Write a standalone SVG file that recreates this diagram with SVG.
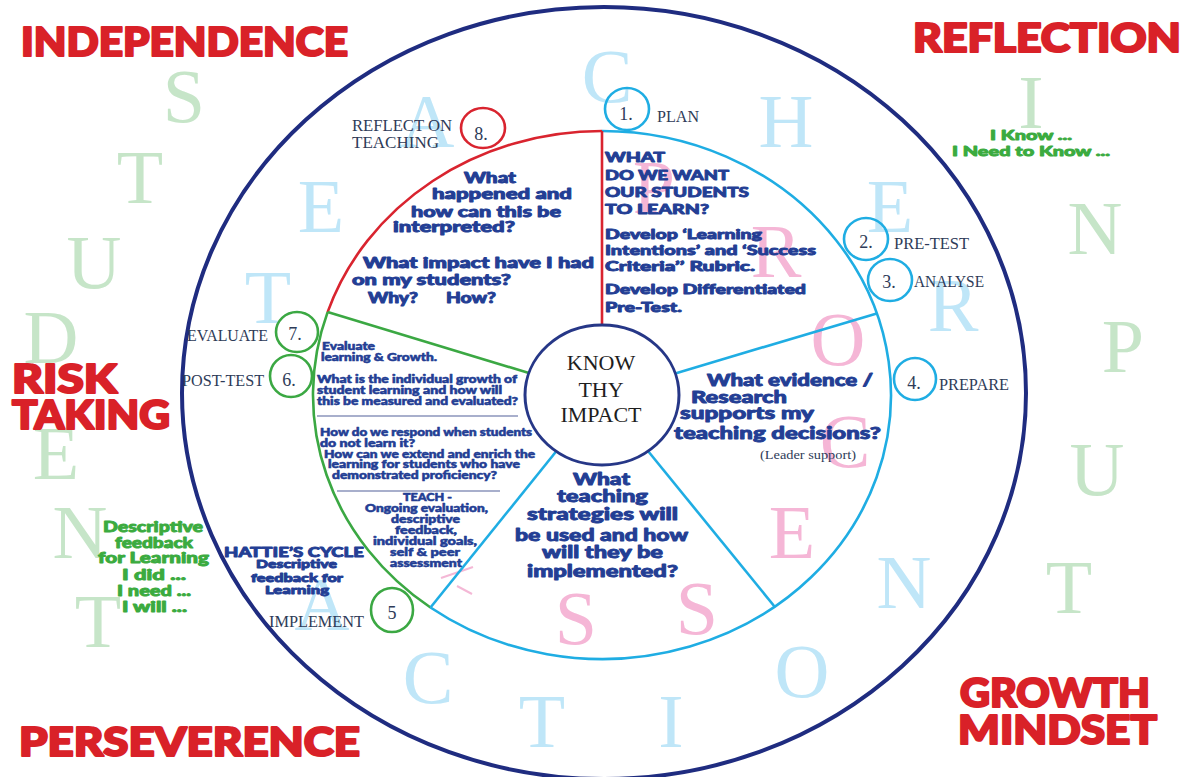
<svg xmlns="http://www.w3.org/2000/svg" width="1189" height="777" viewBox="0 0 1189 777">
<style>
.bg{fill:#ffffff}
.pl{font-family:"Liberation Serif","DejaVu Serif",serif;font-size:76px;text-anchor:middle}
.pg{fill:#c6e5c8}
.pb{fill:#bfe6f8}
.pp{fill:#f5b6d6}
.ring{fill:none;stroke:#1f2c80;stroke-width:4}
.sr{fill:none;stroke:#d9242f;stroke-width:2.6}
.sb{fill:none;stroke:#1fade3;stroke-width:2.6}
.sg{fill:none;stroke:#3ba843;stroke-width:2.6}
.sep{stroke:#8b95bb;stroke-width:1.3}
.hub{fill:#ffffff;stroke:#263787;stroke-width:3}
.hubt{font-family:"Liberation Serif","DejaVu Serif",serif;font-size:22px;fill:#1e1e1e;text-anchor:middle}
.lab{font-family:"Liberation Serif","DejaVu Serif",serif;font-size:16px;fill:#2e3b58}
.num{font-family:"Liberation Serif","DejaVu Serif",serif;font-size:18px;fill:#2e3b58;text-anchor:middle}
.hv{font-family:"Lato","DejaVu Sans",sans-serif;font-weight:900;fill:#233e94;stroke:#233e94;stroke-width:0.9;stroke-linejoin:round}
.f15{font-size:15px}
.f14{font-size:14px}
.f17{font-size:17px}
.f12{font-size:12px}
.f10{font-size:10.5px;stroke-width:0.55}
.gr{font-family:"Lato","DejaVu Sans",sans-serif;font-weight:900;fill:#3bab3f;stroke:#3bab3f;stroke-width:0.9;stroke-linejoin:round}
.red{font-family:"Lato","DejaVu Sans",sans-serif;font-weight:900;fill:#d92128;stroke:#d92128;stroke-width:2.2;stroke-linejoin:round;font-size:40px}
</style>
<rect class="bg" x="0" y="0" width="1189" height="777"/>

<g id="background-letters">
  <g class="pl pg">
    <text x="184" y="122">S</text>
    <text x="140" y="203">T</text>
    <text x="94" y="288">U</text>
    <text x="51" y="363">D</text>
    <text x="56" y="479">E</text>
    <text x="80" y="558">N</text>
    <text x="98" y="647">T</text>
    <text x="1031" y="128">I</text>
    <text x="1095" y="254">N</text>
    <text x="1123" y="372">P</text>
    <text x="1097" y="495">U</text>
    <text x="1069" y="613">T</text>
  </g>
  <g class="pl pb">
    <text x="268" y="323">T</text>
    <text x="321" y="232">E</text>
    <text x="427" y="147">A</text>
    <text x="607" y="102">C</text>
    <text x="786" y="147">H</text>
    <text x="890" y="232">E</text>
    <text x="953" y="331">R</text>
    <text x="322" y="630">A</text>
    <text x="428" y="703">C</text>
    <text x="542" y="747">T</text>
    <text x="671" y="747">I</text>
    <text x="802" y="697">O</text>
    <text x="904" y="608">N</text>
  </g>
  <g class="pl pp">
    <text x="654" y="213">P</text>
    <text x="776" y="277">R</text>
    <text x="838" y="365">O</text>
    <text x="845" y="467">C</text>
    <text x="792" y="558">E</text>
    <text x="576" y="644">S</text>
    <text x="697" y="634">S</text>
  </g>
  <path d="M473,567 L441,578 M457,586 L472,594" fill="none" stroke="#f4b8d6" stroke-width="2"/>
</g>

<g id="outer-ring">
  <ellipse class="ring" cx="604" cy="393" rx="422" ry="386"/>
</g>

<g id="sector-reflect">
  <path class="sr" d="M602,131 A289,264 0 0 0 327.6,312.1"/>
  <g class="hv f15">
    <text x="464" y="183" textLength="52" lengthAdjust="spacingAndGlyphs">What</text>
    <text x="432" y="199" textLength="140" lengthAdjust="spacingAndGlyphs">happened and</text>
    <text x="411" y="217" textLength="150" lengthAdjust="spacingAndGlyphs">how can this be</text>
    <text x="393" y="232" textLength="122" lengthAdjust="spacingAndGlyphs">interpreted?</text>
    <text x="363" y="268" textLength="231" lengthAdjust="spacingAndGlyphs">What impact have I had</text>
    <text x="352" y="285" textLength="159" lengthAdjust="spacingAndGlyphs">on my students?</text>
    <text x="368" y="303" textLength="50" lengthAdjust="spacingAndGlyphs">Why?</text>
    <text x="446" y="303" textLength="50" lengthAdjust="spacingAndGlyphs">How?</text>
  </g>
</g>

<g id="sector-plan">
  <path class="sb" d="M602,131 A289,264 0 1 1 430.5,607.5"/>
  <g class="hv f14">
    <text x="605" y="162" textLength="60" lengthAdjust="spacingAndGlyphs">WHAT</text>
    <text x="605" y="180" textLength="124" lengthAdjust="spacingAndGlyphs">DO WE WANT</text>
    <text x="605" y="197" textLength="144" lengthAdjust="spacingAndGlyphs">OUR STUDENTS</text>
    <text x="605" y="214" textLength="104" lengthAdjust="spacingAndGlyphs">TO LEARN?</text>
    <text x="605" y="239" textLength="157" lengthAdjust="spacingAndGlyphs">Develop ‘Learning</text>
    <text x="605" y="255" textLength="211" lengthAdjust="spacingAndGlyphs">Intentions’ and ‘Success</text>
    <text x="605" y="271" textLength="150" lengthAdjust="spacingAndGlyphs">Criteria’’ Rubric.</text>
    <text x="605" y="294" textLength="201" lengthAdjust="spacingAndGlyphs">Develop Differentiated</text>
    <text x="605" y="312" textLength="77" lengthAdjust="spacingAndGlyphs">Pre-Test.</text>
  </g>
</g>

<g id="sector-prepare">
  <g class="hv f17">
    <text x="707" y="386" textLength="166" lengthAdjust="spacingAndGlyphs">What evidence /</text>
    <text x="691" y="403" textLength="96" lengthAdjust="spacingAndGlyphs">Research</text>
    <text x="680" y="419" textLength="134" lengthAdjust="spacingAndGlyphs">supports my</text>
    <text x="674" y="439" textLength="207" lengthAdjust="spacingAndGlyphs">teaching decisions?</text>
  </g>
  <text class="lab" x="760" y="459" style="font-size:13px" textLength="96" lengthAdjust="spacingAndGlyphs">(Leader support)</text>
</g>

<g id="sector-teach">
  <g class="hv f17">
    <text x="573" y="485" textLength="57" lengthAdjust="spacingAndGlyphs">What</text>
    <text x="557" y="502" textLength="91" lengthAdjust="spacingAndGlyphs">teaching</text>
    <text x="527" y="520" textLength="151" lengthAdjust="spacingAndGlyphs">strategies will</text>
    <text x="515" y="541" textLength="173" lengthAdjust="spacingAndGlyphs">be used and how</text>
    <text x="542" y="558" textLength="121" lengthAdjust="spacingAndGlyphs">will they be</text>
    <text x="527" y="577" textLength="151" lengthAdjust="spacingAndGlyphs">implemented?</text>
  </g>
</g>

<g id="sector-evaluate">
  <path class="sg" d="M327.6,312.1 A289,264 0 0 0 430.5,607.5"/>
  <line class="sep" x1="317" y1="416" x2="518" y2="416"/>
  <line class="sep" x1="337" y1="491" x2="500" y2="491"/>
  <g class="hv f10">
    <text x="322" y="350" textLength="53" lengthAdjust="spacingAndGlyphs">Evaluate</text>
    <text x="321" y="361" textLength="116" lengthAdjust="spacingAndGlyphs">learning &amp; Growth.</text>
    <text x="317" y="383" textLength="200" lengthAdjust="spacingAndGlyphs">What is the individual growth of</text>
    <text x="317" y="394" textLength="185" lengthAdjust="spacingAndGlyphs">student learning and how will</text>
    <text x="317" y="405" textLength="201" lengthAdjust="spacingAndGlyphs">this be measured and evaluated?</text>
    <text x="320" y="436" textLength="212" lengthAdjust="spacingAndGlyphs">How do we respond when students</text>
    <text x="320" y="447" textLength="95" lengthAdjust="spacingAndGlyphs">do not learn it?</text>
    <text x="324" y="458" textLength="211" lengthAdjust="spacingAndGlyphs">How can we extend and enrich the</text>
    <text x="328" y="468" textLength="192" lengthAdjust="spacingAndGlyphs">learning for students who have</text>
    <text x="332" y="479" textLength="165" lengthAdjust="spacingAndGlyphs">demonstrated proficiency?</text>
    <text x="403" y="501" textLength="49" lengthAdjust="spacingAndGlyphs">TEACH -</text>
    <text x="365" y="512" textLength="123" lengthAdjust="spacingAndGlyphs">Ongoing evaluation,</text>
    <text x="391" y="523" textLength="69" lengthAdjust="spacingAndGlyphs">descriptive</text>
    <text x="395" y="534" textLength="62" lengthAdjust="spacingAndGlyphs">feedback,</text>
    <text x="373" y="545" textLength="104" lengthAdjust="spacingAndGlyphs">individual goals,</text>
    <text x="390" y="556" textLength="70" lengthAdjust="spacingAndGlyphs">self &amp; peer</text>
    <text x="390" y="567" textLength="72" lengthAdjust="spacingAndGlyphs">assessment</text>
  </g>
</g>

<g id="connectors">
  <line class="sr" x1="602" y1="131" x2="602" y2="325"/>
  <line class="sg" x1="327.6" y1="312.1" x2="528.9" y2="373"/>
  <line class="sb" x1="430.5" y1="607.5" x2="556.3" y2="451.3"/>
  <line class="sb" x1="774.7" y1="606.7" x2="648" y2="451"/>
  <line class="sb" x1="876.8" y1="313.4" x2="675.2" y2="373.4"/>
</g>

<g id="hub">
  <ellipse class="hub" cx="602" cy="395" rx="77" ry="70"/>
  <text class="hubt" x="601" y="370">KNOW</text>
  <text class="hubt" x="601" y="397">THY</text>
  <text class="hubt" x="601" y="422">IMPACT</text>
</g>

<g id="step-1">
  <ellipse class="sb" cx="627" cy="109" rx="22" ry="21"/>
  <text class="num" x="626" y="120">1.</text>
  <text class="lab" x="657" y="122" textLength="42" lengthAdjust="spacingAndGlyphs">PLAN</text>
</g>
<g id="step-2">
  <ellipse class="sb" cx="866" cy="239" rx="22" ry="21"/>
  <text class="num" x="866" y="248">2.</text>
  <text class="lab" x="894" y="249" textLength="75" lengthAdjust="spacingAndGlyphs">PRE-TEST</text>
</g>
<g id="step-3">
  <ellipse class="sb" cx="890" cy="280" rx="22" ry="21"/>
  <text class="num" x="889" y="288">3.</text>
  <text class="lab" x="914" y="287" textLength="70" lengthAdjust="spacingAndGlyphs">ANALYSE</text>
</g>
<g id="step-4">
  <ellipse class="sb" cx="915" cy="379" rx="21" ry="21"/>
  <text class="num" x="914" y="389">4.</text>
  <text class="lab" x="939" y="390" textLength="70" lengthAdjust="spacingAndGlyphs">PREPARE</text>
</g>
<g id="step-5">
  <ellipse class="sg" cx="392" cy="610" rx="21" ry="22"/>
  <text class="num" x="392" y="619">5</text>
  <text class="lab" x="269" y="627" textLength="95" lengthAdjust="spacingAndGlyphs">IMPLEMENT</text>
</g>
<g id="step-6">
  <ellipse class="sg" cx="291" cy="376" rx="21" ry="21"/>
  <text class="num" x="289" y="386">6.</text>
  <text class="lab" x="182" y="386" textLength="82" lengthAdjust="spacingAndGlyphs">POST-TEST</text>
</g>
<g id="step-7">
  <ellipse class="sg" cx="297" cy="332" rx="21" ry="20"/>
  <text class="num" x="295" y="340">7.</text>
  <text class="lab" x="187" y="341" textLength="81" lengthAdjust="spacingAndGlyphs">EVALUATE</text>
</g>
<g id="step-8">
  <ellipse class="sr" cx="483" cy="128" rx="22" ry="20"/>
  <text class="num" x="481" y="140">8.</text>
  <text class="lab" x="352" y="131" textLength="100" lengthAdjust="spacingAndGlyphs">REFLECT ON</text>
  <text class="lab" x="352" y="148" textLength="87" lengthAdjust="spacingAndGlyphs">TEACHING</text>
</g>

<g id="hatties-cycle">
  <text class="hv f14" x="224" y="557" textLength="140" lengthAdjust="spacingAndGlyphs">HATTIE’S CYCLE</text>
  <text class="hv f12" x="256" y="568" textLength="81" lengthAdjust="spacingAndGlyphs">Descriptive</text>
  <text class="hv f12" x="251" y="582" textLength="92" lengthAdjust="spacingAndGlyphs">feedback for</text>
  <text class="hv f12" x="265" y="594" textLength="64" lengthAdjust="spacingAndGlyphs">Learning</text>
</g>

<g id="feedback-left">
  <g class="gr f15">
    <text x="103" y="532" textLength="100" lengthAdjust="spacingAndGlyphs">Descriptive</text>
    <text x="115" y="548" textLength="78" lengthAdjust="spacingAndGlyphs">feedback</text>
    <text x="98" y="563" textLength="111" lengthAdjust="spacingAndGlyphs">for Learning</text>
    <text x="122" y="580" textLength="64" lengthAdjust="spacingAndGlyphs">I did ...</text>
    <text x="117" y="596" textLength="74" lengthAdjust="spacingAndGlyphs">I need ...</text>
    <text x="122" y="612" textLength="65" lengthAdjust="spacingAndGlyphs">I will ...</text>
  </g>
</g>

<g id="know-right">
  <g class="gr f14">
    <text x="990" y="140" textLength="82" lengthAdjust="spacingAndGlyphs">I Know ...</text>
    <text x="952" y="156" textLength="158" lengthAdjust="spacingAndGlyphs">I Need to Know  ...</text>
  </g>
</g>

<g id="titles">
  <text class="red" x="21" y="56" textLength="327" lengthAdjust="spacingAndGlyphs">INDEPENDENCE</text>
  <text class="red" x="913" y="52" textLength="268" lengthAdjust="spacingAndGlyphs">REFLECTION</text>
  <text class="red" x="12" y="393" textLength="105" lengthAdjust="spacingAndGlyphs">RISK</text>
  <text class="red" x="12" y="429" textLength="158" lengthAdjust="spacingAndGlyphs">TAKING</text>
  <text class="red" x="19" y="756" textLength="341" lengthAdjust="spacingAndGlyphs">PERSEVERENCE</text>
  <text class="red" x="960" y="707" textLength="190" lengthAdjust="spacingAndGlyphs">GROWTH</text>
  <text class="red" x="958" y="744" textLength="199" lengthAdjust="spacingAndGlyphs">MINDSET</text>
</g>
</svg>
